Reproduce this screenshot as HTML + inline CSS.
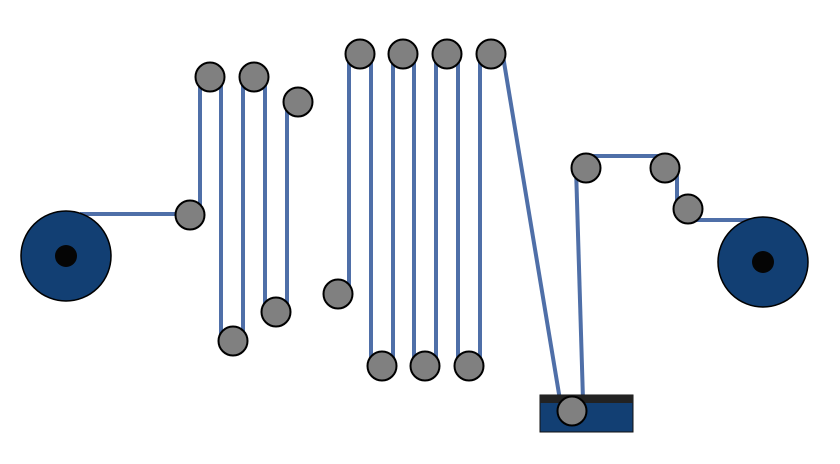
<!DOCTYPE html>
<html><head><meta charset="utf-8"><style>html,body{margin:0;padding:0;background:#fff}</style></head>
<body>
<svg width="840" height="459" viewBox="0 0 840 459" xmlns="http://www.w3.org/2000/svg">
<g stroke="#4f6fa8" stroke-width="4" fill="none">
<line x1="80" y1="214" x2="190" y2="214"/>
<line x1="200" y1="215" x2="200" y2="77"/>
<line x1="221" y1="77" x2="221" y2="341"/>
<line x1="243" y1="341" x2="243" y2="77"/>
<line x1="265" y1="77" x2="265" y2="312"/>
<line x1="287" y1="312" x2="287" y2="102"/>
<line x1="349" y1="294" x2="349" y2="54"/>
<line x1="371" y1="54" x2="371" y2="366"/>
<line x1="393" y1="366" x2="393" y2="54"/>
<line x1="414" y1="54" x2="414" y2="366"/>
<line x1="436" y1="366" x2="436" y2="54"/>
<line x1="458" y1="54" x2="458" y2="366"/>
<line x1="480" y1="366" x2="480" y2="54"/>
<line x1="503" y1="56" x2="560" y2="400"/>
<line x1="583" y1="400" x2="576" y2="168"/>
<line x1="586" y1="156" x2="665" y2="156"/>
<line x1="677" y1="168" x2="677" y2="205"/>
<line x1="690" y1="220" x2="752" y2="220"/>
</g>
<rect x="540" y="395" width="93" height="37" fill="#123f73" stroke="#111" stroke-width="1"/>
<rect x="540" y="395" width="93" height="8" fill="#222"/>
<g fill="#123f73" stroke="#000" stroke-width="1.5">
<circle cx="66" cy="256" r="45"/>
<circle cx="763" cy="262" r="45"/>
</g>
<circle cx="66" cy="256" r="11" fill="#050505"/>
<circle cx="763" cy="262" r="11" fill="#050505"/>
<g fill="#808080" stroke="#000" stroke-width="2">
<circle cx="190" cy="215" r="14.5"/>
<circle cx="210" cy="77" r="14.5"/>
<circle cx="254" cy="77" r="14.5"/>
<circle cx="298" cy="102" r="14.5"/>
<circle cx="233" cy="341" r="14.5"/>
<circle cx="276" cy="312" r="14.5"/>
<circle cx="338" cy="294" r="14.5"/>
<circle cx="360" cy="54" r="14.5"/>
<circle cx="403" cy="54" r="14.5"/>
<circle cx="447" cy="54" r="14.5"/>
<circle cx="491" cy="54" r="14.5"/>
<circle cx="382" cy="366" r="14.5"/>
<circle cx="425" cy="366" r="14.5"/>
<circle cx="469" cy="366" r="14.5"/>
<circle cx="586" cy="168" r="14.5"/>
<circle cx="665" cy="168" r="14.5"/>
<circle cx="688" cy="209" r="14.5"/>
<circle cx="572" cy="411" r="14.5"/>
</g>
</svg>
</body></html>
